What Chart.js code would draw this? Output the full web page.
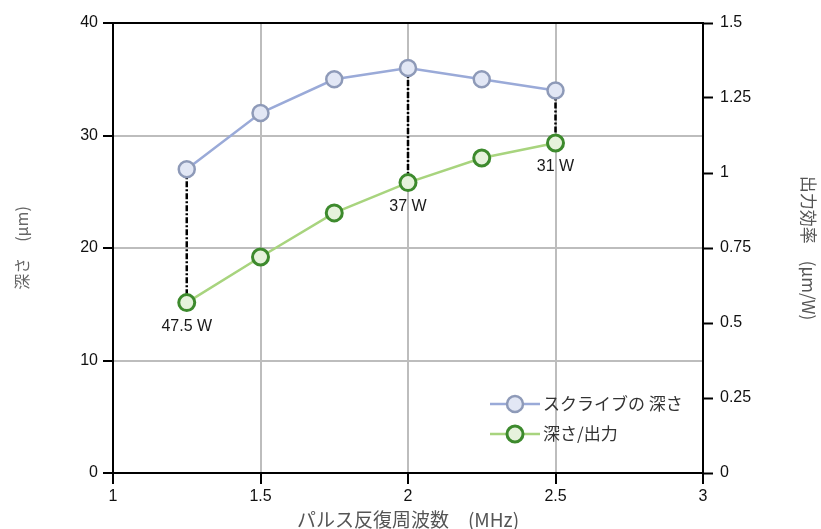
<!DOCTYPE html>
<html>
<head>
<meta charset="utf-8">
<script src="https://cdn.jsdelivr.net/npm/chart.js@4/dist/chart.umd.min.js"></script>
<style>
html,body{margin:0;padding:0;background:#fff;}
#wrap{width:821px;height:529px;position:relative;}
</style>
</head>
<body>
<div id="wrap"><canvas id="c" width="821" height="529"></canvas></div>
<script>
// ---- data ----
const frequencies = [1.25, 1.5, 1.75, 2, 2.25, 2.5];          // MHz
const depth = [27, 32, 35, 36, 35, 34];                         // μm (left axis)
const depthPerPower = [0.568, 0.72, 0.867, 0.968, 1.05, 1.1];   // μm/W (right axis)
const powerIdx = [0, 3, 5];
const powerLabels = ['47.5 W', '37 W', '31 W'];
const seriesNames = ['スクライブの 深さ', '深さ/出力'];
const xTicks = [1, 1.5, 2, 2.5, 3];
const leftTicks = [0, 10, 20, 30, 40];
const rightTicks = [0, 0.25, 0.5, 0.75, 1, 1.25, 1.5];

const FONT = "'Liberation Sans', 'Noto Sans CJK JP', sans-serif";
const JFONT = "'Noto Sans CJK JP', 'Liberation Sans', sans-serif";

const blue = {line:'#9aaad8', fill:'#e2e7f5', border:'#8e9ab8'};
const green = {line:'#a8d47e', fill:'#e6f2dc', border:'#3d8a2d'};

const frame = {
  id:'frame',
  beforeDatasetsDraw(chart){
    const {ctx, chartArea:a} = chart;
    ctx.save();
    ctx.strokeStyle = '#000'; ctx.lineWidth = 2;
    ctx.strokeRect(a.left, a.top, a.right-a.left, a.bottom-a.top);
    // connectors
    const m0 = chart.getDatasetMeta(0), m1 = chart.getDatasetMeta(1);
    ctx.setLineDash([6,2,2,2]); ctx.lineWidth = 2.5;
    powerIdx.forEach(i=>{
      const p0 = m0.data[i], p1 = m1.data[i];
      ctx.beginPath(); ctx.moveTo(p0.x, p0.y); ctx.lineTo(p1.x, p1.y); ctx.stroke();
    });
    ctx.restore();
  },
  afterDatasetsDraw(chart){
    const {ctx, chartArea:a} = chart;
    const m1 = chart.getDatasetMeta(1);
    ctx.save();
    ctx.fillStyle = '#1a1a1a';
    ctx.font = '16px ' + FONT;
    ctx.textAlign = 'center'; ctx.textBaseline = 'middle';
    powerIdx.forEach((i,k)=>{
      const p = m1.data[i];
      ctx.fillText(powerLabels[k], p.x, p.y + 24);
    });
    // legend
    const styles = [blue, green];
    const lx = a.right - 213, ly = a.bottom - 69;
    styles.forEach((s,k)=>{
      const y = ly + k*30;
      ctx.strokeStyle = s.line; ctx.lineWidth = 2.5;
      ctx.beginPath(); ctx.moveTo(lx, y); ctx.lineTo(lx+50, y); ctx.stroke();
      ctx.beginPath(); ctx.arc(lx+25, y, 8, 0, Math.PI*2);
      ctx.fillStyle = s.fill; ctx.fill();
      ctx.strokeStyle = s.border; ctx.lineWidth = k===0?2.5:3; ctx.stroke();
      ctx.fillStyle = '#333'; ctx.font = '17px ' + JFONT;
      ctx.textAlign = 'left'; ctx.textBaseline = 'middle';
      ctx.fillText(seriesNames[k], lx+53, y);
    });
    ctx.restore();
  }
};

const fmt = v => String(v);

new Chart(document.getElementById('c'), {
  type:'line',
  data:{
    datasets:[
      {label:seriesNames[0], yAxisID:'y', data:frequencies.map((x,i)=>({x, y:depth[i]})),
       borderColor:blue.line, borderWidth:2.5, pointRadius:8, pointBackgroundColor:blue.fill,
       pointBorderColor:blue.border, pointBorderWidth:2.5, tension:0},
      {label:seriesNames[1], yAxisID:'y1', data:frequencies.map((x,i)=>({x, y:depthPerPower[i]})),
       borderColor:green.line, borderWidth:2.5, pointRadius:8, pointBackgroundColor:green.fill,
       pointBorderColor:green.border, pointBorderWidth:3, tension:0}
    ]
  },
  options:{
    responsive:false, animation:false,
    layout:{padding:{top:23, left:0, right:0, bottom:0}},
    plugins:{legend:{display:false}, tooltip:{enabled:false}},
    scales:{
      x:{type:'linear', min:1, max:3,
        afterBuildTicks(s){ s.ticks = xTicks.map(v=>({value:v})); },
        afterFit(s){ s.height = 56; },
        grid:{color:'#bdbdbd', lineWidth:2, tickColor:'#000', tickWidth:2, tickLength:11},
        border:{display:false},
        ticks:{color:'#111', font:{family:FONT, size:16}, padding:3, maxRotation:0, callback:fmt},
        title:{display:true, text:'パルス反復周波数　(MHz)', color:'#555', font:{family:JFONT, size:19, lineHeight:1}, padding:{top:0,bottom:0}}
      },
      y:{type:'linear', position:'left', min:0, max:40,
        afterBuildTicks(s){ s.ticks = leftTicks.map(v=>({value:v})); },
        afterFit(s){ s.width = 113; },
        grid:{color:'#bdbdbd', lineWidth:2, tickColor:'#000', tickWidth:2, tickLength:10},
        border:{display:false},
        ticks:{color:'#111', font:{family:FONT, size:16}, padding:5, callback:fmt},
        title:{display:true, text:'深さ　(μm)', color:'#666', font:{family:JFONT, size:16, lineHeight:1}, padding:{top:14,bottom:0}}
      },
      y1:{type:'linear', position:'right', min:0, max:1.5,
        afterBuildTicks(s){ s.ticks = rightTicks.map(v=>({value:v})); },
        afterFit(s){ s.width = 118; },
        grid:{drawOnChartArea:false, tickColor:'#000', tickWidth:2, tickLength:10},
        border:{display:false},
        ticks:{color:'#111', font:{family:FONT, size:16}, padding:7, callback:fmt},
        title:{display:true, text:'出力効率　(μm/W)', color:'#555', font:{family:JFONT, size:17, lineHeight:1}, padding:{top:4,bottom:0}}
      }
    }
  },
  plugins:[frame]
});
</script>
</body>
</html>
